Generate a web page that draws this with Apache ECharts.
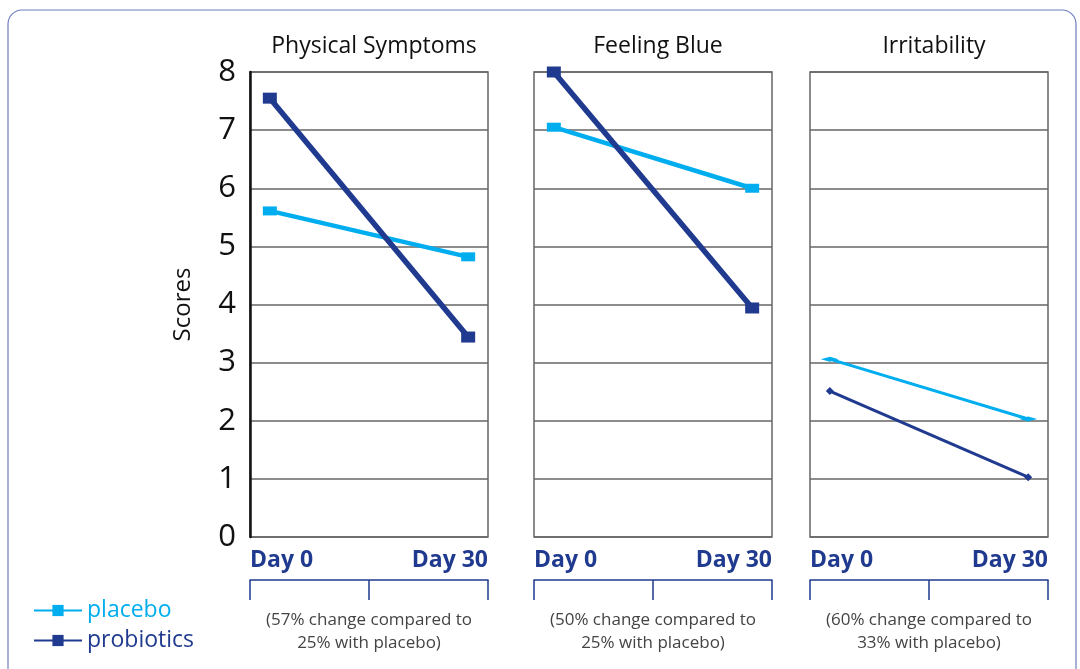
<!DOCTYPE html>
<html>
<head>
<meta charset="utf-8">
<script src="https://cdn.jsdelivr.net/npm/echarts@6/dist/echarts.min.js"></script>
<style>
  html, body { margin: 0; padding: 0; background: #fff; }
  #chart { width: 1080px; height: 669px; }
</style>
</head>
<body>
<div id="chart"></div>
<script>
// values
var panels = ["Physical Symptoms", "Feeling Blue", "Irritability"];
var days = ["Day 0", "Day 30"];
var placebo = [[5.61, 4.82], [7.05, 6.0], [3.06, 2.03]];
var probiotics = [[7.55, 3.44], [8.0, 3.94], [2.51, 1.03]];
var notes = [
  "(57% change compared to\n25% with placebo)",
  "(50% change compared to\n25% with placebo)",
  "(60% change compared to\n33% with placebo)"
];

var CYAN = "#00aeef";
var NAVY = "#1f3a8f";
var FONT = "Open Sans";

var lefts = [250, 534, 810];
var W = 238, TOP = 72, H = 465;

var chart = echarts.init(document.getElementById("chart"));

var grids = [], xAxes = [], yAxes = [], series = [], titles = [], graphics = [];

panels.forEach(function (name, i) {
  grids.push({
    left: lefts[i], top: TOP, width: W, height: H,
    show: true, borderColor: "#666", borderWidth: 1.5, backgroundColor: "#fff"
  });
  // day labels
  xAxes.push({
    type: "value", gridIndex: i, min: -0.1, max: 1.1, position: "bottom",
    axisLine: { show: false }, axisTick: { show: false }, splitLine: { show: false },
    axisLabel: {
      customValues: [-0.1, 1.1],
      alignMinLabel: "left", alignMaxLabel: "right",
      formatter: function (v) { return v < 0.5 ? days[0] : days[1]; },
      margin: 12, fontFamily: FONT, fontWeight: "bold", fontSize: 23, color: NAVY
    }
  });
  // bracket under the day labels
  xAxes.push({
    type: "value", gridIndex: i, min: -0.1, max: 1.1, position: "bottom", offset: 43,
    axisLine: { show: true, onZero: false, lineStyle: { color: NAVY, width: 1.5 } },
    axisTick: { show: true, customValues: [-0.1, 0.5, 1.1], length: 20, lineStyle: { color: NAVY, width: 1.5 } },
    axisLabel: { show: false }, splitLine: { show: false }
  });
  yAxes.push({
    type: "value", gridIndex: i, min: 0, max: 8, interval: 1,
    axisLine: { show: i === 0, onZero: false, lineStyle: { color: "#111", width: 2.5 } },
    axisTick: { show: false },
    axisLabel: { show: i === 0, fontFamily: FONT, fontSize: 31, color: "#111", margin: 14 },
    splitLine: { show: true, lineStyle: { color: "#666", width: 1.5 } },
    name: i === 0 ? "Scores" : "", nameLocation: "middle", nameGap: 55,
    nameTextStyle: { fontFamily: FONT, fontSize: 24, color: "#111" }
  });
  var thin = i === 2;
  series.push({
    name: "placebo", type: "line", xAxisIndex: i * 2, yAxisIndex: i,
    data: [[0, placebo[i][0]], [1, placebo[i][1]]],
    symbol: thin ? "diamond" : "rect", symbolSize: thin ? [18, 5] : [14, 9],
    lineStyle: { color: CYAN, width: thin ? 3 : 4.5 },
    itemStyle: { color: CYAN }, z: 3
  });
  series.push({
    name: "probiotics", type: "line", xAxisIndex: i * 2, yAxisIndex: i,
    data: [[0, probiotics[i][0]], [1, probiotics[i][1]]],
    symbol: thin ? "diamond" : "rect", symbolSize: thin ? 8 : [14, 11],
    lineStyle: { color: NAVY, width: thin ? 3 : 5.5 },
    itemStyle: { color: NAVY }, z: 4
  });
  titles.push({
    text: name, left: lefts[i] + W / 2, top: 30, textAlign: "center",
    textStyle: { fontFamily: FONT, fontSize: 23, fontWeight: "normal", color: "#111" }
  });
  graphics.push({
    type: "text",
    style: {
      text: notes[i], x: lefts[i] + W / 2, y: 609, align: "center",
      font: "17px '" + FONT + "'", fill: "#444", lineHeight: 23
    }
  });
});

graphics.unshift({
  type: "rect", shape: { x: 8, y: 10, width: 1068, height: 690, r: 14 },
  style: { fill: "none", stroke: "#6f7fc0", lineWidth: 1.2 }, z: -10
});

chart.setOption({
  animation: false,
  backgroundColor: "#fff",
  title: titles,
  grid: grids,
  xAxis: xAxes,
  yAxis: yAxes,
  series: series,
  legend: {
    orient: "vertical", left: 28, top: 594, itemWidth: 48, itemHeight: 14, itemGap: 7,
    data: [
      { name: "placebo", textStyle: { color: CYAN } },
      { name: "probiotics", textStyle: { color: NAVY } }
    ],
    textStyle: { fontFamily: FONT, fontSize: 23 }
  },
  graphic: graphics
});
</script>
</body>
</html>
